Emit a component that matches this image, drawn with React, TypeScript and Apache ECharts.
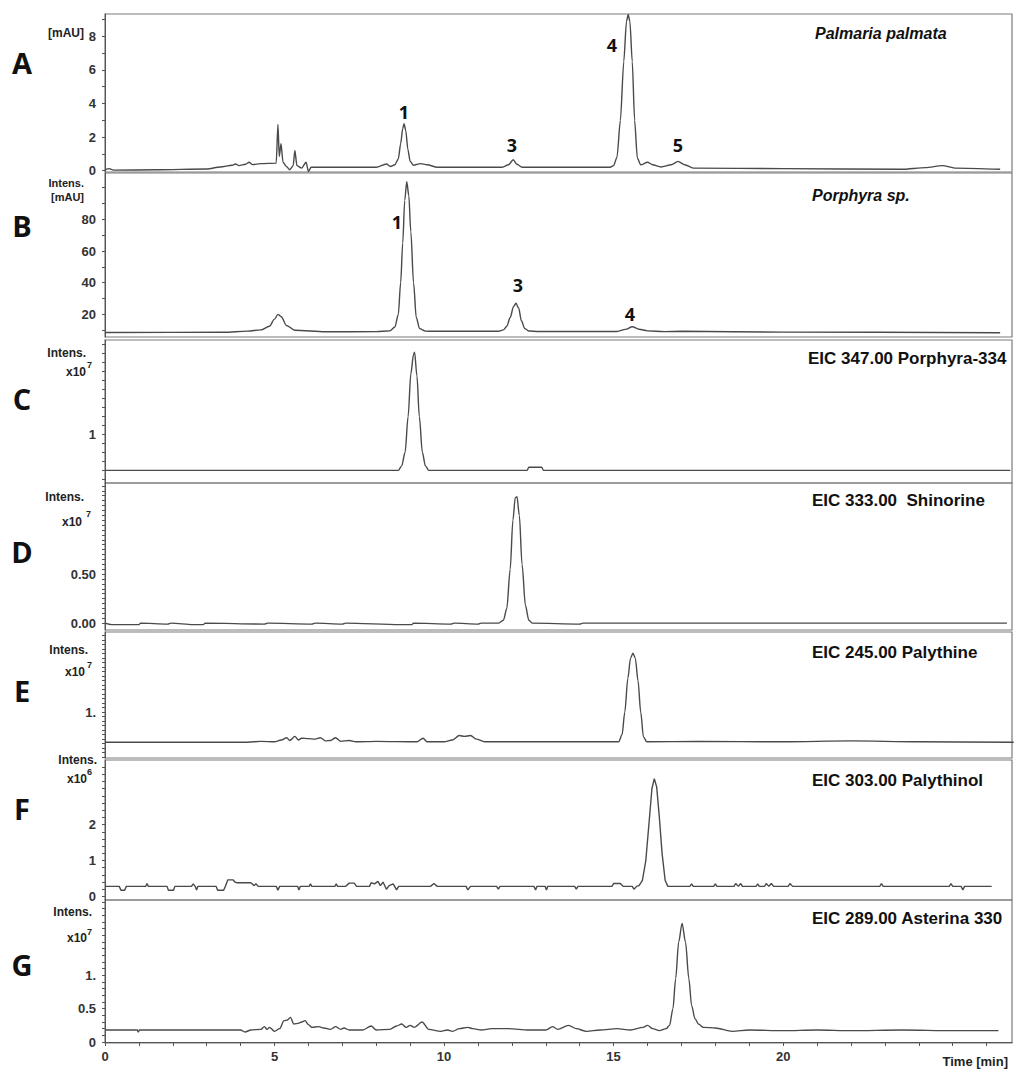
import React, { useEffect, useRef } from "react";
import * as echarts from "echarts";

// ---------- shared time axis ----------
const TIME_MAX = 26.75;
const timeTickValues = [0, 1, 2, 3, 4, 5, 6, 7, 8, 9, 10, 11, 12, 13, 14, 15, 16, 17, 18, 19, 20, 21, 22, 23, 24, 25, 26];
const timeLabelValues = [0, 5, 10, 15, 20];

// ---------- traces [time (min), intensity] ----------
const palmariaTrace: number[][] = [
  [0, 0.05], [0.12, 0.12], [0.25, 0.03], [1.5, 0.05], [3.0, 0.1], [3.4, 0.22], [3.75, 0.32], [3.85, 0.4], [3.95, 0.3],
  [4.15, 0.38], [4.25, 0.5], [4.35, 0.36], [4.6, 0.42], [5.05, 0.45], [5.1, 2.75], [5.14, 0.85], [5.19, 1.6], [5.25, 0.5],
  [5.35, 0.25], [5.45, 0.05], [5.55, 0.3], [5.6, 1.2], [5.66, 0.3], [5.8, 0.15], [5.93, 0.5], [6.0, -0.05], [6.08, 0.2],
  [7.0, 0.2], [8.0, 0.2], [8.3, 0.4], [8.42, 0.25], [8.55, 0.35], [8.65, 0.7], [8.72, 1.6], [8.78, 2.5], [8.82, 2.8],
  [8.87, 2.4], [8.93, 1.3], [9.0, 0.55], [9.1, 0.32], [9.3, 0.42], [9.5, 0.35], [9.8, 0.2], [11.7, 0.2], [11.9, 0.35],
  [12.04, 0.65], [12.15, 0.38], [12.3, 0.2], [14.9, 0.2], [15.0, 0.3], [15.1, 0.8], [15.2, 3.0], [15.3, 6.5], [15.38, 8.9],
  [15.43, 9.3], [15.48, 8.9], [15.55, 6.5], [15.62, 3.0], [15.7, 0.75], [15.8, 0.35], [16.0, 0.5], [16.15, 0.35],
  [16.4, 0.22], [16.7, 0.35], [16.9, 0.55], [17.1, 0.35], [17.35, 0.15], [20, 0.12], [23.5, 0.08], [24.2, 0.18],
  [24.7, 0.3], [25.1, 0.15], [26.4, 0.08],
];

const porphyraTrace: number[][] = [
  [0, 8.5], [3.5, 8.7], [4.2, 9.4], [4.6, 10.2], [4.85, 12.5], [5.0, 17], [5.1, 20], [5.2, 18.5], [5.35, 13], [5.6, 10],
  [6.5, 9], [8.0, 9.1], [8.4, 9.6], [8.55, 12], [8.65, 20], [8.72, 40], [8.78, 65], [8.84, 92], [8.9, 103.8], [8.96, 95],
  [9.02, 72], [9.1, 40], [9.18, 18], [9.28, 11], [9.45, 9.4], [9.7, 9.3], [11.6, 9.3], [11.75, 10.2], [11.85, 12.5],
  [11.95, 18], [12.05, 25], [12.12, 27], [12.2, 24], [12.28, 16], [12.38, 11], [12.5, 9.5], [12.8, 9.2], [15.1, 9.2],
  [15.35, 10.5], [15.55, 12.2], [15.75, 10.6], [16.0, 9.6], [16.5, 9.1], [17, 9.3], [20, 8.8], [26.4, 8.4],
];

const porphyra334Eic: number[][] = [
  [0, 0.2], [8.65, 0.2], [8.75, 0.3], [8.85, 0.6], [8.94, 1.4], [9.02, 2.35], [9.1, 2.78], [9.13, 2.83], [9.2, 2.3],
  [9.27, 1.4], [9.36, 0.6], [9.45, 0.3], [9.55, 0.2], [12.45, 0.2], [12.5, 0.27], [12.88, 0.27], [12.93, 0.2], [26.7, 0.2],
];

const shinorineEic: number[][] = [
  [0, 0], [0.2, -0.015], [1.0, -0.015], [1.05, 0], [1.85, -0.01], [1.95, 0], [2.6, -0.015], [2.9, -0.015], [2.95, 0],
  [4.7, -0.01], [4.8, 0], [6.1, -0.01], [6.2, 0], [7.0, -0.01], [7.1, 0], [8.7, -0.015], [9.05, -0.015], [9.1, 0],
  [10.2, -0.01], [10.3, 0], [11.0, -0.01], [11.1, 0], [11.6, 0], [11.75, 0.03], [11.85, 0.15], [11.95, 0.55],
  [12.03, 1.05], [12.1, 1.28], [12.15, 1.29], [12.22, 1.1], [12.3, 0.6], [12.4, 0.18], [12.5, 0.03], [12.6, 0],
  [14.0, -0.01], [14.1, 0], [26.6, 0],
];

const palythineEic: number[][] = [
  [0, 0.33], [4.2, 0.33], [4.6, 0.35], [5.0, 0.34], [5.2, 0.38], [5.36, 0.43], [5.45, 0.37], [5.6, 0.46], [5.7, 0.38],
  [5.8, 0.42], [6.0, 0.41], [6.2, 0.4], [6.35, 0.43], [6.5, 0.36], [6.65, 0.37], [6.8, 0.43], [6.95, 0.35], [7.2, 0.37],
  [7.4, 0.34], [8.0, 0.35], [9.2, 0.34], [9.38, 0.42], [9.5, 0.34], [10.0, 0.34], [10.25, 0.38], [10.45, 0.48],
  [10.6, 0.46], [10.78, 0.48], [10.95, 0.4], [11.2, 0.34], [12, 0.34], [15.15, 0.34], [15.25, 0.5], [15.33, 1.0],
  [15.42, 1.75], [15.5, 2.2], [15.57, 2.31], [15.64, 2.2], [15.72, 1.7], [15.8, 1.0], [15.88, 0.45], [15.98, 0.34],
  [17.5, 0.35], [20, 0.34], [22, 0.36], [24, 0.34], [26.8, 0.33],
];

const palythinolEic: number[][] = [
  [0, 0.28], [0.42, 0.28], [0.47, 0.17], [0.58, 0.17], [0.63, 0.28], [1.2, 0.28], [1.24, 0.36], [1.28, 0.28],
  [1.83, 0.28], [1.87, 0.17], [2.02, 0.17], [2.06, 0.28], [2.55, 0.28], [2.6, 0.35], [2.66, 0.28], [2.7, 0.18],
  [2.74, 0.28], [3.28, 0.28], [3.32, 0.17], [3.5, 0.17], [3.55, 0.28], [3.62, 0.46], [3.78, 0.46], [3.83, 0.4],
  [3.9, 0.38], [4.3, 0.38], [4.4, 0.3], [4.45, 0.35], [4.52, 0.28], [5.05, 0.28], [5.1, 0.17], [5.15, 0.28],
  [5.68, 0.28], [5.72, 0.18], [5.76, 0.28], [6.02, 0.28], [6.06, 0.35], [6.1, 0.28], [6.78, 0.28], [6.82, 0.35],
  [6.86, 0.28], [7.1, 0.28], [7.2, 0.37], [7.35, 0.37], [7.42, 0.28], [7.8, 0.28], [7.85, 0.38], [7.95, 0.35],
  [8.05, 0.42], [8.12, 0.3], [8.2, 0.4], [8.3, 0.2], [8.38, 0.3], [8.5, 0.35], [8.6, 0.18], [8.66, 0.28], [9.6, 0.28],
  [9.7, 0.36], [9.8, 0.28], [10.65, 0.28], [10.7, 0.18], [10.78, 0.28], [11.55, 0.28], [11.6, 0.2], [11.65, 0.28],
  [12.65, 0.28], [12.7, 0.18], [12.74, 0.28], [12.98, 0.28], [13.02, 0.18], [13.06, 0.28], [13.85, 0.28], [13.9, 0.2],
  [13.95, 0.28], [14.95, 0.28], [15.0, 0.36], [15.2, 0.36], [15.28, 0.28], [15.55, 0.28], [15.6, 0.2], [15.68, 0.28],
  [15.75, 0.3], [15.85, 0.45], [15.95, 1.0], [16.05, 2.1], [16.13, 3.0], [16.2, 3.28], [16.27, 3.05], [16.35, 2.2],
  [16.43, 1.2], [16.52, 0.45], [16.6, 0.28], [17.25, 0.28], [17.3, 0.35], [17.35, 0.28], [17.95, 0.28], [18.0, 0.35],
  [18.05, 0.28], [18.55, 0.28], [18.6, 0.36], [18.68, 0.28], [18.75, 0.36], [18.8, 0.28], [19.2, 0.28], [19.25, 0.35],
  [19.3, 0.28], [19.45, 0.28], [19.5, 0.36], [19.58, 0.28], [19.65, 0.36], [19.72, 0.28], [20.15, 0.28], [20.2, 0.36],
  [20.28, 0.28], [22.85, 0.28], [22.9, 0.36], [22.95, 0.28], [24.9, 0.28], [24.95, 0.36], [25.0, 0.28], [25.25, 0.28],
  [25.3, 0.18], [25.35, 0.28], [26.15, 0.28],
];

const asterinaEic: number[][] = [
  [0, 0.18], [0.95, 0.18], [0.98, 0.15], [1.02, 0.18], [4.0, 0.18], [4.13, 0.15], [4.3, 0.18], [4.6, 0.19], [4.7, 0.23],
  [4.78, 0.19], [4.85, 0.22], [5.0, 0.16], [5.15, 0.2], [5.28, 0.32], [5.38, 0.33], [5.47, 0.37], [5.57, 0.27],
  [5.7, 0.28], [5.8, 0.3], [5.9, 0.32], [6.0, 0.26], [6.1, 0.22], [6.3, 0.23], [6.45, 0.21], [6.65, 0.19], [6.8, 0.23],
  [6.95, 0.19], [7.05, 0.21], [7.2, 0.18], [7.6, 0.18], [7.85, 0.24], [8.0, 0.18], [8.4, 0.19], [8.6, 0.24], [8.75, 0.27],
  [8.88, 0.22], [9.0, 0.25], [9.12, 0.22], [9.35, 0.3], [9.55, 0.19], [9.9, 0.16], [10.1, 0.18], [10.25, 0.16],
  [10.45, 0.2], [10.7, 0.22], [10.85, 0.2], [11.1, 0.18], [11.4, 0.2], [11.9, 0.2], [12.5, 0.18], [13.0, 0.18],
  [13.2, 0.23], [13.35, 0.19], [13.67, 0.25], [13.9, 0.2], [14.2, 0.16], [14.6, 0.18], [15.1, 0.2], [15.5, 0.18],
  [15.87, 0.22], [16.0, 0.25], [16.15, 0.2], [16.35, 0.17], [16.55, 0.2], [16.65, 0.25], [16.75, 0.5], [16.83, 0.95],
  [16.92, 1.5], [17.02, 1.78], [17.12, 1.5], [17.22, 0.95], [17.3, 0.55], [17.4, 0.35], [17.5, 0.27], [17.65, 0.22],
  [18.0, 0.21], [18.5, 0.16], [19.0, 0.18], [20.0, 0.17], [21.0, 0.18], [22.0, 0.17], [23.5, 0.18], [25.0, 0.17],
  [26.35, 0.17],
];

// ---------- y tick values & labels ----------
const ticksA = [0, 1, 2, 3, 4, 5, 6, 7, 8, 9];
const labelsA = [[0, "0"], [2, "2"], [4, "4"], [6, "6"], [8, "8"]];
const ticksB = [10, 20, 30, 40, 50, 60, 70, 80, 90, 100];
const labelsB = [[20, "20"], [40, "40"], [60, "60"], [80, "80"]];
const ticksC = [0, 0.2, 0.4, 0.6, 0.8, 1, 1.2, 1.4, 1.6, 1.8, 2, 2.2, 2.4, 2.6, 2.8, 3];
const labelsC = [[1, "1"]];
const ticksD = [0, 0.05, 0.1, 0.15, 0.2, 0.25, 0.3, 0.35, 0.4, 0.45, 0.5, 0.55, 0.6, 0.65, 0.7, 0.75, 0.8, 0.85, 0.9, 0.95, 1, 1.05, 1.1, 1.15, 1.2, 1.25, 1.3, 1.35, 1.4];
const labelsD = [[0, "0.00"], [0.5, "0.50"]];
const ticksE = [0, 0.1, 0.2, 0.3, 0.4, 0.5, 0.6, 0.7, 0.8, 0.9, 1, 1.1, 1.2, 1.3, 1.4, 1.5, 1.6, 1.7, 1.8, 1.9, 2, 2.1, 2.2, 2.3, 2.4, 2.5, 2.6, 2.7];
const labelsE = [[1, "1."]];
const ticksF = [0, 0.2, 0.4, 0.6, 0.8, 1, 1.2, 1.4, 1.6, 1.8, 2, 2.2, 2.4, 2.6, 2.8, 3, 3.2, 3.4, 3.6];
const labelsF = [[0, "0"], [1, "1"], [2, "2"]];
const ticksG = [0, 0.1, 0.2, 0.3, 0.4, 0.5, 0.6, 0.7, 0.8, 0.9, 1, 1.1, 1.2, 1.3, 1.4, 1.5, 1.6, 1.7, 1.8, 1.9, 2, 2.1];
const labelsG = [[0, "0"], [0.5, "0.5"], [1, "1."]];

// ---------- texts ----------
const panelLetters = ["A", "B", "C", "D", "E", "F", "G"];
const panelTitles = [
  "Palmaria palmata",
  "Porphyra sp.",
  "EIC 347.00 Porphyra-334",
  "EIC 333.00  Shinorine",
  "EIC 245.00 Palythine",
  "EIC 303.00 Palythinol",
  "EIC 289.00 Asterina 330",
];
const peakLabelsA = ["1", "3", "4", "5"];
const peakLabelsB = ["1", "3", "4"];

// ---------- layout (pixels) ----------
const PLOT_LEFT = 105;
const PLOT_RIGHT = 12;
const layout = [
  { top: 14, height: 158, yMin: -0.08, yMax: 9.33, letterY: 62, titleX: 815, titleY: 33, italic: true, smooth: 0.25 },
  { top: 173, height: 164, yMin: 5.7, yMax: 109.3, letterY: 225, titleX: 812, titleY: 195, italic: true, smooth: 0.3 },
  { top: 340, height: 143, yMin: -0.08, yMax: 3.1, letterY: 398, titleX: 808, titleY: 358, italic: false, smooth: 0.3 },
  { top: 483, height: 147, yMin: -0.07, yMax: 1.43, letterY: 551, titleX: 812, titleY: 500, italic: false, smooth: 0.3 },
  { top: 632, height: 126, yMin: -0.02, yMax: 2.78, letterY: 690, titleX: 812, titleY: 652, italic: false, smooth: 0.3 },
  { top: 760, height: 140, yMin: -0.1, yMax: 3.8, letterY: 808, titleX: 812, titleY: 780, italic: false, smooth: 0 },
  { top: 900, height: 143, yMin: -0.015, yMax: 2.13, letterY: 964, titleX: 812, titleY: 918, italic: false, smooth: 0.3 },
];

const traces = [palmariaTrace, porphyraTrace, porphyra334Eic, shinorineEic, palythineEic, palythinolEic, asterinaEic];
const yTicks = [ticksA, ticksB, ticksC, ticksD, ticksE, ticksF, ticksG];
const yLabels = [labelsA, labelsB, labelsC, labelsD, labelsE, labelsF, labelsG];

const AXIS_FONT = "Liberation Sans, Arial, sans-serif";
const LETTER_FONT = "Open Sans, Noto Sans, sans-serif";

function txt(text: string, x: number, y: number, font: string, align = "right", fill = "#222") {
  return {
    type: "text",
    x,
    y,
    silent: true,
    style: { text, font, fill, align, verticalAlign: "middle" },
  };
}

function buildOption() {
  const grid = layout.map((p) => ({
    left: PLOT_LEFT,
    right: PLOT_RIGHT,
    top: p.top,
    height: p.height,
    show: true,
    borderColor: "#7a7a7a",
    borderWidth: 1.2,
    backgroundColor: "transparent",
  }));

  const xAxis = layout.map((p, i) => ({
    gridIndex: i,
    type: "value",
    min: 0,
    max: TIME_MAX,
    show: i === layout.length - 1,
    axisLine: { show: true, lineStyle: { color: "#555", width: 1 } },
    axisTick: { show: true, customValues: timeTickValues, length: 4, lineStyle: { color: "#555" } },
    axisLabel: {
      customValues: timeLabelValues,
      fontFamily: AXIS_FONT,
      fontWeight: "bold",
      fontSize: 13,
      color: "#333",
      margin: 7,
    },
    splitLine: { show: false },
  }));

  const yAxis = layout.map((p, i) => {
    const labels = yLabels[i];
    return {
      gridIndex: i,
      type: "value",
      min: p.yMin,
      max: p.yMax,
      axisLine: { show: true, lineStyle: { color: "#555", width: 1 } },
      axisTick: { show: true, customValues: yTicks[i], length: 3, lineStyle: { color: "#555" } },
      axisLabel: {
        customValues: labels.map((l) => l[0] as number),
        formatter: (v: number) => {
          const hit = labels.find((l) => Math.abs((l[0] as number) - v) < 1e-6);
          return hit ? (hit[1] as string) : "";
        },
        fontFamily: AXIS_FONT,
        fontWeight: "bold",
        fontSize: 13,
        color: "#333",
        margin: 9,
      },
      splitLine: { show: false },
    };
  });

  const series = layout.map((p, i) => ({
    type: "line",
    xAxisIndex: i,
    yAxisIndex: i,
    data: traces[i],
    showSymbol: false,
    symbol: "none",
    smooth: p.smooth,
    smoothMonotone: "x",
    silent: true,
    lineStyle: { color: "#4a4a4a", width: 1.4 },
  }));

  const elements: any[] = [];
  // panel letters
  panelLetters.forEach((l, i) => {
    elements.push(txt(l, 22, layout[i].letterY, `bold 29px ${LETTER_FONT}`, "center", "#111"));
  });
  // panel titles
  panelTitles.forEach((t, i) => {
    const p = layout[i];
    const font = p.italic ? `italic bold 16px ${AXIS_FONT}` : `bold 17px ${AXIS_FONT}`;
    elements.push(txt(t, p.titleX, p.titleY, font, "left", "#111"));
  });
  // y unit captions
  const cap = `bold 12px ${AXIS_FONT}`;
  const capSmall = `bold 11px ${AXIS_FONT}`;
  const sup = `bold 9px ${AXIS_FONT}`;
  elements.push(txt("[mAU]", 84, 33, cap));
  elements.push(txt("Intens.", 84, 183, capSmall));
  elements.push(txt("[mAU]", 84, 197, capSmall));
  elements.push(txt("Intens.", 86, 353, cap));
  elements.push(txt("x10", 86, 372, cap));
  elements.push(txt("7", 87, 365, sup, "left"));
  elements.push(txt("Intens.", 84, 497, cap));
  elements.push(txt("x10", 82, 522, cap));
  elements.push(txt("7", 86, 514, sup, "left"));
  elements.push(txt("Intens.", 88, 650, cap));
  elements.push(txt("x10", 85, 672, cap));
  elements.push(txt("7", 87, 665, sup, "left"));
  elements.push(txt("Intens.", 97, 760, cap));
  elements.push(txt("x10", 87, 779, cap));
  elements.push(txt("6", 87, 772, sup, "left"));
  elements.push(txt("Intens.", 92, 912, cap));
  elements.push(txt("x10", 87, 938, cap));
  elements.push(txt("7", 87, 932, sup, "left"));
  // peak numbers
  const pk = `bold 18px ${LETTER_FONT}`;
  const posA = [[404, 112], [512, 145], [612, 45], [678, 145]];
  peakLabelsA.forEach((t, i) => elements.push(txt(t, posA[i][0], posA[i][1], pk, "center", "#111")));
  const posB = [[397, 222], [518, 285], [630, 314]];
  peakLabelsB.forEach((t, i) => elements.push(txt(t, posB[i][0], posB[i][1], pk, "center", "#111")));
  // x-axis caption
  elements.push(txt("Time [min]", 1008, 1061, `bold 13px ${AXIS_FONT}`, "right", "#222"));

  return {
    animation: false,
    backgroundColor: "#ffffff",
    grid,
    xAxis,
    yAxis,
    series,
    graphic: { elements },
  };
}

export default function App() {
  const ref = useRef<HTMLDivElement>(null);
  useEffect(() => {
    document.body.style.margin = "0";
    document.body.style.overflow = "hidden";
    const chart = echarts.init(ref.current as HTMLDivElement, null, { renderer: "svg" });
    chart.setOption(buildOption() as any);
    return () => chart.dispose();
  }, []);
  return <div ref={ref} style={{ width: 1024, height: 1079 }} />;
}
